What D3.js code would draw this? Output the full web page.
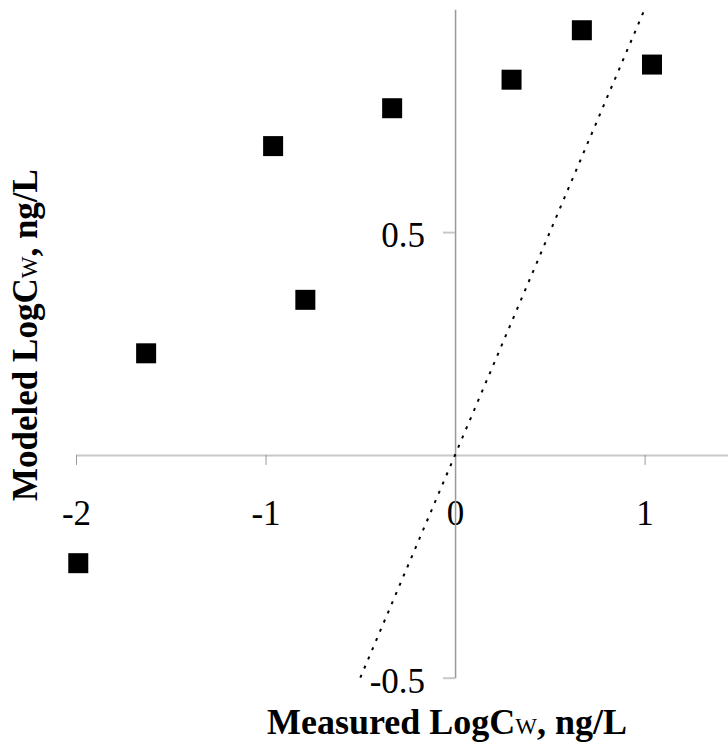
<!DOCTYPE html>
<html>
<head>
<meta charset="utf-8">
<script src="https://cdn.jsdelivr.net/npm/d3@7"></script>
<style>
  html, body { margin: 0; padding: 0; background: #fff; }
  svg { display: block; font-family: "Liberation Serif", "Times New Roman", serif; }
</style>
</head>
<body>
<svg id="chart" width="728" height="751"></svg>
<script>
// Measured vs modeled log concentrations (ng/L)
const measured = [-1.988, -1.630, -0.960, -0.790, -0.332, 0.298, 0.669, 1.039];
const modeled  = [-0.243, 0.228, 0.693, 0.348, 0.778, 0.842, 0.953, 0.876];
const xTicks = [-2, -1, 0, 1];
const yTicks = [-0.5, 0.5];
// 1:1 reference line endpoints
const oneToOne = [-0.5, 1];

const svg = d3.select("#chart");

const x = d3.scaleLinear().domain([-2, 1.44]).range([76, 728]);
const y = d3.scaleLinear().domain([-0.5, 1]).range([677.7, 9.3]);

const fmt = d => String(d);

// x axis through y = 0
const gx = svg.append("g")
  .attr("transform", `translate(0,${y(0)})`)
  .call(d3.axisBottom(x).tickValues(xTicks).tickSize(10).tickSizeOuter(0).tickFormat(fmt));
gx.attr("font-family", null);
gx.select(".domain").attr("stroke", "#c8c8c8").attr("stroke-width", 2);
gx.selectAll(".tick line").attr("stroke", "#999").attr("stroke-width", 1);
gx.selectAll(".tick text")
  .attr("y", 70).attr("dy", 0)
  .attr("fill", "#000")
  .style("font-family", "'Liberation Serif', serif")
  .style("font-size", "35px");

// y axis through x = 0
const gy = svg.append("g")
  .attr("transform", `translate(${x(0)},0)`)
  .call(d3.axisLeft(y).tickValues(yTicks).tickSize(12).tickSizeOuter(0).tickFormat(fmt));
gy.attr("font-family", null);
gy.select(".domain").attr("stroke", "#999").attr("stroke-width", 1.5);
gy.selectAll(".tick line").attr("stroke", "#c8c8c8").attr("stroke-width", 2);
gy.selectAll(".tick text")
  .attr("x", -30).attr("dy", 14.5)
  .attr("fill", "#000")
  .style("font-family", "'Liberation Serif', serif")
  .style("font-size", "35px");

// 1:1 dotted line
svg.append("line")
  .attr("x1", x(oneToOne[0])).attr("y1", y(oneToOne[0]))
  .attr("x2", x(oneToOne[1])).attr("y2", y(oneToOne[1]))
  .attr("stroke", "#000")
  .attr("stroke-width", 2)
  .attr("stroke-dasharray", "3,7");

// square markers
const size = 20;
svg.append("g").selectAll("rect")
  .data(measured.map((m, i) => [m, modeled[i]]))
  .join("rect")
  .attr("x", d => x(d[0]) - size / 2)
  .attr("y", d => y(d[1]) - size / 2)
  .attr("width", size)
  .attr("height", size)
  .attr("fill", "#000");

// axis titles
const xt = svg.append("text")
  .attr("x", 447).attr("y", 734)
  .attr("text-anchor", "middle")
  .style("font-size", "36px").style("font-weight", "bold");
xt.append("tspan").text("Measured LogC");
xt.append("tspan").text("W").style("font-size", "23px").style("font-weight", "normal");
xt.append("tspan").text(", ng/L");

const yt = svg.append("text")
  .attr("transform", "translate(37,335) rotate(-90)")
  .attr("text-anchor", "middle")
  .style("font-size", "35px").style("font-weight", "bold");
yt.append("tspan").text("Modeled LogC");
yt.append("tspan").text("W").style("font-size", "23px").style("font-weight", "normal");
yt.append("tspan").text(", ng/L");
</script>
</body>
</html>
